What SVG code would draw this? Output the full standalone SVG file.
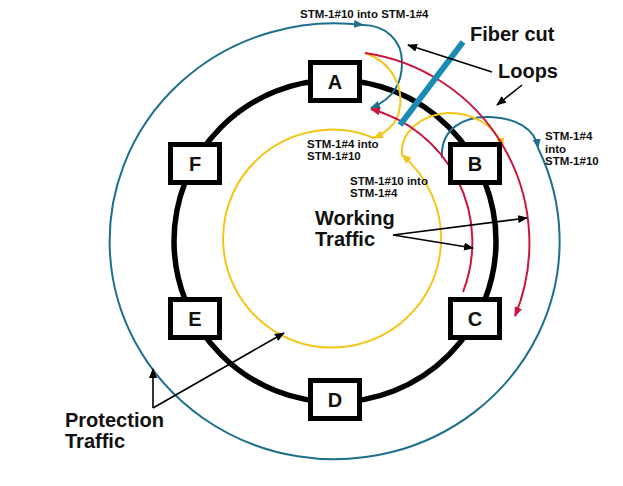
<svg xmlns="http://www.w3.org/2000/svg" width="623" height="486" viewBox="0 0 623 486">
<style>
  .t{font-family:"Liberation Sans",Arial,sans-serif;font-weight:bold;fill:#111}
  .s{font-size:11.5px}
  .b{font-size:20px}
  .box{fill:#fff;stroke:#000;stroke-width:5}
  .lbl{font-family:"Liberation Sans",Arial,sans-serif;font-weight:bold;font-size:20px;fill:#111;text-anchor:middle}
  .teal{fill:none;stroke:#1e6f8c;stroke-width:2}
  .yel{fill:none;stroke:#f5c518;stroke-width:2}
  .red{fill:none;stroke:#c8163f;stroke-width:2}
  .blk{fill:none;stroke:#000;stroke-width:1.6}
</style>
<defs>
  <marker id="aT" markerUnits="userSpaceOnUse" markerWidth="10" markerHeight="8" refX="9" refY="4" orient="auto"><path d="M0,0 L10,4 L0,8 z" fill="#1e6f8c"/></marker>
  <marker id="aY" markerUnits="userSpaceOnUse" markerWidth="10" markerHeight="8" refX="9" refY="4" orient="auto"><path d="M0,0 L10,4 L0,8 z" fill="#f5c518"/></marker>
  <marker id="aR" markerUnits="userSpaceOnUse" markerWidth="10" markerHeight="8" refX="9" refY="4" orient="auto"><path d="M0,0 L10,4 L0,8 z" fill="#c8163f"/></marker>
  <marker id="aK" markerUnits="userSpaceOnUse" markerWidth="10" markerHeight="8" refX="9" refY="4" orient="auto"><path d="M0,0 L10,4 L0,8 z" fill="#000"/></marker>
</defs>
<rect width="623" height="486" fill="#fff"/>

<g id="ring">
  <circle cx="335" cy="241" r="161" fill="none" stroke="#000" stroke-width="5.5"/>
</g>

<g id="connectors">
  <!-- protection (teal) -->
  <path class="teal" d="M442,158 C440,128 465,116 490,117 C515,118 535,128 538,148" marker-end="url(#aT)"/>
  <path class="teal" d="M538,148 A225,218 0 1 1 363,25" marker-end="url(#aT)"/>
  <path class="teal" d="M363,25 C385,25 402,40 402,62 C402,82 395,98 371,108" marker-end="url(#aT)"/>
  <!-- yellow -->
  <path class="yel" d="M365,53 C392,62 405,88 399,112 C396,124 385,133 374,138" marker-end="url(#aY)"/>
  <path class="yel" d="M374,138 A109,109 0 1 0 402,155" marker-end="url(#aY)"/>
  <path class="yel" d="M402,155 C400,133 420,115 447,113 C470,112 495,124 503,147" marker-end="url(#aY)"/>
  <!-- red working -->
  <path class="red" d="M365,53 A192,192 0 0 1 515,316" marker-end="url(#aR)"/>
  <path class="red" d="M463,292 A138,138 0 0 0 371,109" marker-end="url(#aR)"/>
</g>

<g id="node-A"><rect class="box" x="310.5" y="62.5" width="49" height="38"/><text class="lbl" x="335" y="89">A</text></g>
<g id="node-B"><rect class="box" x="450.5" y="144.5" width="49" height="38"/><text class="lbl" x="475" y="171">B</text></g>
<g id="node-C"><rect class="box" x="450.5" y="299.5" width="49" height="38"/><text class="lbl" x="475" y="326">C</text></g>
<g id="node-D"><rect class="box" x="310.5" y="380.5" width="49" height="38"/><text class="lbl" x="335" y="407">D</text></g>
<g id="node-E"><rect class="box" x="170.5" y="299.5" width="49" height="38"/><text class="lbl" x="195" y="326">E</text></g>
<g id="node-F"><rect class="box" x="170.5" y="144.5" width="49" height="38"/><text class="lbl" x="195" y="171">F</text></g>

<g id="fiber-cut">
  <line x1="463" y1="42" x2="400" y2="125" stroke="#1a8cb4" stroke-width="6"/>
</g>

<g id="callouts">
  <line class="blk" x1="492" y1="72" x2="408" y2="45" marker-end="url(#aK)"/>
  <line class="blk" x1="522" y1="85" x2="497" y2="105" marker-end="url(#aK)"/>
  <line class="blk" x1="393" y1="235" x2="527" y2="218" marker-end="url(#aK)"/>
  <line class="blk" x1="393" y1="235" x2="473" y2="248" marker-end="url(#aK)"/>
  <line class="blk" x1="153" y1="408" x2="153" y2="369" marker-end="url(#aK)"/>
  <line class="blk" x1="153" y1="408" x2="284" y2="333" marker-end="url(#aK)"/>
</g>

<g id="labels">
  <text class="t s" x="300" y="18">STM-1#10 into STM-1#4</text>
  <text class="t b" x="470" y="41">Fiber cut</text>
  <text class="t b" x="498" y="78">Loops</text>
  <text class="t s" x="307" y="148">STM-1#4 into</text>
  <text class="t s" x="307" y="160">STM-1#10</text>
  <text class="t s" x="350" y="185">STM-1#10 into</text>
  <text class="t s" x="350" y="197">STM-1#4</text>
  <text class="t s" x="545" y="140">STM-1#4</text>
  <text class="t s" x="545" y="153">into</text>
  <text class="t s" x="545" y="165">STM-1#10</text>
  <text class="t b" x="315" y="225">Working</text>
  <text class="t b" x="315" y="246">Traffic</text>
  <text class="t b" x="65" y="427">Protection</text>
  <text class="t b" x="65" y="448">Traffic</text>
</g>
</svg>
